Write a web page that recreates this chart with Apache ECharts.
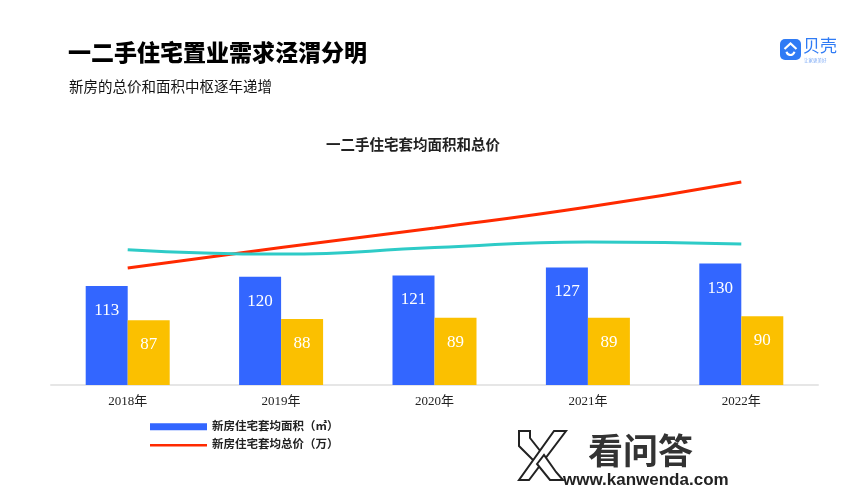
<!DOCTYPE html>
<html>
<head>
<meta charset="utf-8">
<script src="https://cdn.jsdelivr.net/npm/echarts@6/dist/echarts.min.js"></script>
<style>
html,body{margin:0;padding:0;background:#fff;}
#chart{width:865px;height:492px;}
</style>
</head>
<body>
<div id="chart"></div>
<script>
// ---- data ----
const categories = ['2018年', '2019年', '2020年', '2021年', '2022年'];
const newHouseArea = [113, 120, 121, 127, 130];      // 新房住宅套均面积（㎡）
const secondHouseArea = [87, 88, 89, 89, 90];        // 二手住宅套均面积
const newHousePriceIdx = [49.8, 58.5, 66.8, 75.7, 86.4];   // 新房住宅套均总价（万）— relative position, no axis shown
const secondHousePriceIdx = [57.6, 55.7, 58.5, 60.9, 60.0]; // 二手住宅套均总价 — relative position
const seriesNames = ['新房住宅套均面积（㎡）', '二手住宅套均面积', '新房住宅套均总价（万）', '二手住宅套均总价'];

const serif = "'Liberation Serif','Noto Sans CJK SC',serif";
const sans = "'Noto Sans CJK SC','Noto Sans',sans-serif";

const chart = echarts.init(document.getElementById('chart'), null, {renderer: 'canvas'});

const barLabel = {
  show: true,
  position: 'insideTop',
  distance: 16,
  color: '#ffffff',
  fontSize: 17,
  fontFamily: serif
};

chart.setOption({
  backgroundColor: '#ffffff',
  animation: false,
  title: [
    {text: '一二手住宅置业需求泾渭分明', left: 63, top: 36,
     textStyle: {fontSize: 23, fontWeight: 900, color: '#000', fontFamily: sans}},
    {text: '新房的总价和面积中枢逐年递增', left: 64, top: 74,
     textStyle: {fontSize: 14.5, fontWeight: 'normal', color: '#111', fontFamily: sans}},
    {text: '一二手住宅套均面积和总价', left: 321, top: 134,
     textStyle: {fontSize: 14.5, fontWeight: 'bold', color: '#222', fontFamily: serif}}
  ],
  legend: {
    orient: 'vertical',
    left: 145,
    top: 416,
    itemWidth: 57,
    itemHeight: 7,
    itemGap: 7,
    data: [
      {name: seriesNames[0], icon: 'rect'},
      {name: seriesNames[2], icon: 'path://M0,0H100V4.4H0Z'}
    ],
    textStyle: {fontSize: 11.5, color: '#222', fontFamily: serif, fontWeight: 'bold'}
  },
  grid: {left: 51, right: 47, top: 150, bottom: 107},
  xAxis: {
    type: 'category',
    data: categories,
    axisLine: {lineStyle: {color: '#e6e6e6', width: 2}},
    axisTick: {show: false},
    axisLabel: {color: '#222', fontSize: 13, fontFamily: serif, margin: 10}
  },
  yAxis: [
    {type: 'value', min: 38, max: 216, show: false},
    {type: 'value', min: 0, max: 100, show: false}
  ],
  series: [
    {name: seriesNames[0], type: 'bar', data: newHouseArea, barWidth: 42, barGap: '0%',
     itemStyle: {color: '#3366ff'}, label: barLabel},
    {name: seriesNames[1], type: 'bar', data: secondHouseArea, barWidth: 42, barGap: '0%',
     itemStyle: {color: '#fbc000'}, label: barLabel},
    {name: seriesNames[2], type: 'line', yAxisIndex: 1, data: newHousePriceIdx, smooth: true,
     symbol: 'none', lineStyle: {color: '#ff2a00', width: 3}, itemStyle: {color: '#ff2a00'}},
    {name: seriesNames[3], type: 'line', yAxisIndex: 1, data: secondHousePriceIdx, smooth: true,
     symbol: 'none', lineStyle: {color: '#2ecbc7', width: 3}, itemStyle: {color: '#2ecbc7'}}
  ],
  graphic: [
    // 贝壳 logo
    {type: 'rect', shape: {x: 780, y: 39, width: 21, height: 21, r: 5}, style: {fill: '#2f7bf5'}},
    {type: 'polyline', shape: {points: [[784.5, 49], [790.5, 43.5], [796.5, 49]]},
     style: {stroke: '#fff', lineWidth: 2.2, fill: null}},
    {type: 'arc', shape: {cx: 790.5, cy: 51, r: 4, startAngle: 0.2, endAngle: Math.PI - 0.2},
     style: {stroke: '#fff', lineWidth: 2.2, fill: null}},
    {type: 'text', left: 803, top: 37, style: {text: '贝壳', fontSize: 17, fill: '#2f7bf5', fontFamily: sans}},
    {type: 'text', left: 804, top: 58, style: {text: '让家更美好', fontSize: 4.5, fill: '#7aa8f5', fontFamily: sans}},
    // 看问答 watermark
    {type: 'polygon', shape: {points: [[519, 431], [530, 431], [530, 438], [541, 452], [534, 461], [519, 446]]},
     style: {fill: '#fff', stroke: '#222', lineWidth: 2}},
    {type: 'polygon', shape: {points: [[519, 480], [529, 480], [566, 431], [554, 431]]},
     style: {fill: '#fff', stroke: '#222', lineWidth: 2}},
    {type: 'polygon', shape: {points: [[537, 464], [544, 455], [556, 472], [563, 480], [550, 480]]},
     style: {fill: '#fff', stroke: '#222', lineWidth: 2}},
    {type: 'text', left: 588, top: 433, style: {text: '看问答', fontSize: 35, fontWeight: 'bold', fill: '#333', fontFamily: sans}},
    {type: 'text', left: 563, top: 472, style: {text: 'www.kanwenda.com', fontSize: 17, fontWeight: 'bold', fill: '#222', fontFamily: "'Liberation Sans',sans-serif"}}
  ]
});
</script>
</body>
</html>
